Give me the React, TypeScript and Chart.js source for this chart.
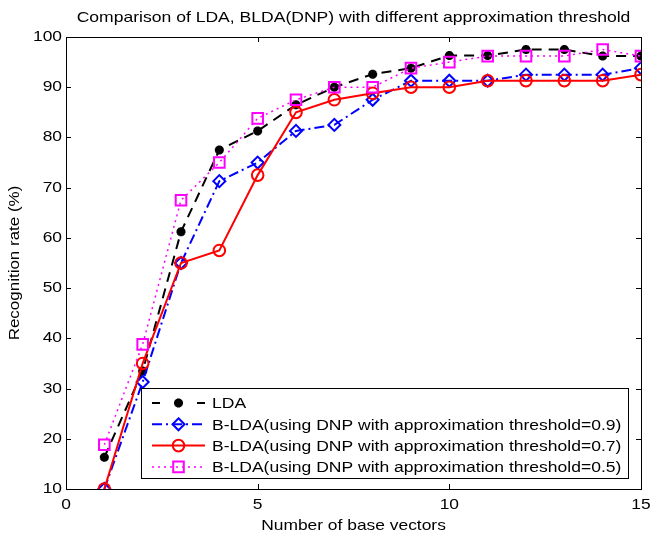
import React, { useEffect, useRef } from "react";
import { Chart, registerables } from "chart.js";

Chart.register(...registerables);

const xValues = [1, 2, 3, 4, 5, 6, 7, 8, 9, 10, 11, 12, 13, 14, 15];
const ldaValues = [16.3, 33.5, 61.2, 77.5, 81.3, 86.5, 90.0, 92.6, 93.8, 96.3, 96.3, 97.5, 97.5, 96.2, 96.2];
const blda09Values = [10.0, 31.3, 55.0, 71.3, 75.0, 81.3, 82.5, 87.5, 91.3, 91.3, 91.3, 92.5, 92.5, 92.5, 93.8];
const blda07Values = [10.0, 35.0, 55.0, 57.5, 72.5, 85.0, 87.5, 88.8, 90.0, 90.0, 91.3, 91.3, 91.3, 91.3, 92.5];
const blda05Values = [18.8, 38.8, 67.5, 75.0, 83.8, 87.5, 90.0, 90.0, 93.8, 95.0, 96.2, 96.2, 96.2, 97.5, 96.2];

const seriesLabels = [
  "LDA",
  "B-LDA(using DNP with approximation threshold=0.9)",
  "B-LDA(using DNP with approximation threshold=0.7)",
  "B-LDA(using DNP with approximation threshold=0.5)",
];
const xTicks = [0, 5, 10, 15];
const yTicks = [10, 20, 30, 40, 50, 60, 70, 80, 90, 100];

const titleText = "Comparison of LDA, BLDA(DNP) with different approximation threshold";
const xLabelText = "Number of base vectors";
const yLabelText = "Recognition rate (%)";

const FONT = "'Liberation Sans', Arial, Helvetica, sans-serif";

function stretchedText(
  ctx: CanvasRenderingContext2D,
  text: string,
  x: number,
  y: number,
  size: number,
  sx: number,
  align: CanvasTextAlign,
  rotate = 0
) {
  ctx.save();
  ctx.translate(x, y);
  if (rotate) ctx.rotate(rotate);
  ctx.scale(sx, 1);
  ctx.font = `${size}px ${FONT}`;
  ctx.textAlign = align;
  ctx.textBaseline = "middle";
  ctx.fillStyle = "#000";
  ctx.fillText(text, 0, 0);
  ctx.restore();
}

function drawMarker(ctx: CanvasRenderingContext2D, style: string, x: number, y: number, r: number, color: string, lw: number) {
  ctx.save();
  ctx.strokeStyle = color;
  ctx.lineWidth = lw;
  ctx.setLineDash([]);
  ctx.beginPath();
  if (style === "circle") {
    ctx.arc(x, y, r, 0, Math.PI * 2);
  } else if (style === "rect") {
    const s = r * Math.SQRT1_2;
    ctx.rect(x - s, y - s, 2 * s, 2 * s);
  } else if (style === "rectRot") {
    ctx.moveTo(x, y - r);
    ctx.lineTo(x + r, y);
    ctx.lineTo(x, y + r);
    ctx.lineTo(x - r, y);
    ctx.closePath();
  } else if (style === "star") {
    for (let k = 0; k < 4; k++) {
      const a = (k * Math.PI) / 4;
      ctx.moveTo(x + Math.cos(a) * r, y + Math.sin(a) * r);
      ctx.lineTo(x - Math.cos(a) * r, y - Math.sin(a) * r);
    }
  }
  ctx.stroke();
  ctx.restore();
}

const framePlugin = {
  id: "matlabFrame",
  afterDraw(chart: any) {
    const ctx: CanvasRenderingContext2D = chart.ctx;
    const { left, right, top, bottom } = chart.chartArea;
    const xs = chart.scales.x;
    const ys = chart.scales.y;
    ctx.save();
    ctx.strokeStyle = "#000";
    ctx.lineWidth = 1;
    ctx.setLineDash([]);
    ctx.strokeRect(left + 0.5, top + 0.5, right - left, bottom - top);
    const tl = 5;
    ctx.beginPath();
    xTicks.forEach((v) => {
      const px = Math.round(xs.getPixelForValue(v)) + 0.5;
      ctx.moveTo(px, bottom);
      ctx.lineTo(px, bottom - tl);
      ctx.moveTo(px, top);
      ctx.lineTo(px, top + tl);
    });
    yTicks.forEach((v) => {
      const py = Math.round(ys.getPixelForValue(v)) + 0.5;
      ctx.moveTo(left, py);
      ctx.lineTo(left + tl, py);
      ctx.moveTo(right, py);
      ctx.lineTo(right - tl, py);
    });
    ctx.stroke();

    // tick labels
    xTicks.forEach((v) => {
      stretchedText(ctx, String(v), xs.getPixelForValue(v), bottom + 16, 14.5, 1.2, "center");
    });
    yTicks.forEach((v) => {
      stretchedText(ctx, String(v), left - 4, ys.getPixelForValue(v), 14.5, 1.2, "right");
    });

    // title and axis labels
    stretchedText(ctx, titleText, (left + right) / 2, 18, 15, 1.17, "center");
    stretchedText(ctx, xLabelText, (left + right) / 2, 526, 14.5, 1.2, "center");
    stretchedText(ctx, yLabelText, 15, (top + bottom) / 2, 14.5, 1.17, "center", -Math.PI / 2);

    // legend
    const lx = 141, ly = 388, lw = 487, lh = 90;
    ctx.fillStyle = "#fff";
    ctx.fillRect(lx, ly, lw, lh);
    ctx.strokeStyle = "#000";
    ctx.lineWidth = 1;
    ctx.strokeRect(lx + 0.5, ly + 0.5, lw, lh);
    chart.data.datasets.forEach((ds: any, i: number) => {
      const ry = 403 + i * 21.3;
      ctx.save();
      ctx.strokeStyle = ds.borderColor;
      ctx.lineWidth = ds.borderWidth;
      ctx.setLineDash(ds.legendDash || ds.borderDash || []);
      ctx.beginPath();
      ctx.moveTo(152, ry);
      ctx.lineTo(205, ry);
      ctx.stroke();
      ctx.restore();
      drawMarker(ctx, ds.pointStyle, 178.5, ry, ds.pointRadius, ds.pointBorderColor || ds.borderColor, ds.pointBorderWidth);
      stretchedText(ctx, ds.label, 212, ry + 1, 15.5, 1.13, "left");
    });
    ctx.restore();
  },
};

function makePoints(vals: number[]) {
  return vals.map((v, i) => ({ x: xValues[i], y: v }));
}

export default function App() {
  const canvasRef = useRef<HTMLCanvasElement | null>(null);
  useEffect(() => {
    document.body.style.margin = "0";
    const canvas = canvasRef.current;
    if (!canvas) return;
    const chart = new Chart(canvas, {
      type: "line",
      data: {
        datasets: [
          {
            label: seriesLabels[0],
            data: makePoints(ldaValues),
            borderColor: "#000000",
            backgroundColor: "#000000",
            borderWidth: 2,
            borderDash: [10, 7],
            legendDash: [8, 37],
            pointStyle: "star",
            pointRadius: 4.5,
            pointBorderWidth: 3,
            pointBorderColor: "#000000",
            order: 3,
          } as any,
          {
            label: seriesLabels[1],
            data: makePoints(blda09Values),
            borderColor: "#0000ff",
            backgroundColor: "transparent",
            borderWidth: 2,
            borderDash: [10, 4, 2, 4],
            pointStyle: "rectRot",
            pointRadius: 6,
            pointBorderWidth: 2,
            pointBackgroundColor: "transparent",
            order: 2,
          } as any,
          {
            label: seriesLabels[2],
            data: makePoints(blda07Values),
            borderColor: "#ff0000",
            backgroundColor: "transparent",
            borderWidth: 2,
            borderDash: [],
            pointStyle: "circle",
            pointRadius: 5.8,
            pointBorderWidth: 2,
            pointBackgroundColor: "transparent",
            order: 1,
          } as any,
          {
            label: seriesLabels[3],
            data: makePoints(blda05Values),
            borderColor: "#ff00ff",
            backgroundColor: "transparent",
            borderWidth: 1.5,
            borderDash: [2, 4],
            pointStyle: "rect",
            pointRadius: 7.5,
            pointBorderWidth: 2,
            pointBackgroundColor: "transparent",
            order: 0,
          } as any,
        ],
      },
      options: {
        animation: false,
        responsive: false,
        maintainAspectRatio: false,
        layout: { padding: { top: 37, right: 11, left: 0, bottom: 0 } },
        plugins: {
          legend: { display: false },
          title: { display: false },
          tooltip: { enabled: false },
        },
        elements: { line: { tension: 0 } },
        scales: {
          x: {
            type: "linear",
            min: 0,
            max: 15,
            afterFit: (s: any) => {
              s.height = 44;
              s.paddingLeft = 0;
              s.paddingRight = 0;
            },
            afterBuildTicks: (s: any) => {
              s.ticks = xTicks.map((v) => ({ value: v }));
            },
            grid: { display: false, drawTicks: false },
            border: { display: false },
            ticks: { display: false },
          },
          y: {
            type: "linear",
            min: 10,
            max: 100,
            afterFit: (s: any) => {
              s.width = 66;
              s.paddingTop = 0;
              s.paddingBottom = 0;
            },
            afterBuildTicks: (s: any) => {
              s.ticks = yTicks.map((v) => ({ value: v }));
            },
            grid: { display: false, drawTicks: false },
            border: { display: false },
            ticks: { display: false },
          },
        },
      },
      plugins: [framePlugin],
    });
    return () => chart.destroy();
  }, []);
  return (
    <div style={{ width: 652, height: 533 }}>
      <canvas ref={canvasRef} width={652} height={533} style={{ display: "block" }} />
    </div>
  );
}
